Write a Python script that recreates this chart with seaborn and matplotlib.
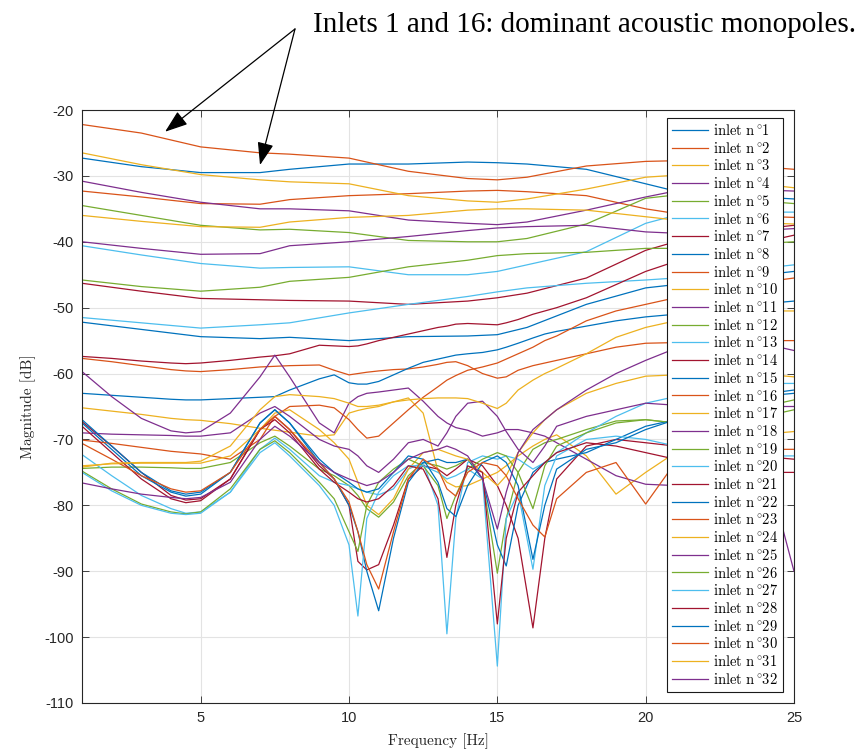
import matplotlib
matplotlib.use("Agg")
import matplotlib.pyplot as plt
from matplotlib.lines import Line2D
import pandas as pd
import seaborn as sns

# ---------------- data ----------------
freq_coarse = [1, 3, 5, 7, 8, 10, 12, 14, 15, 16, 18, 20, 21, 23, 25]
freq_fine = [1, 2, 3, 4, 4.5, 5, 6, 7, 7.5, 8, 9, 9.5, 10, 10.3, 10.6, 11, 11.5, 12, 12.5, 13,
             13.3, 13.6, 14, 14.5, 15, 15.3, 15.7, 16.2, 16.6, 17, 18, 19, 20, 21, 23, 24.5, 25]

# smooth (upper) inlets, on freq_coarse
inlet_16 = [-22.2, -23.5, -25.6, -26.5, -26.7, -27.3, -29.3, -30.4, -30.6, -30.2, -28.5, -27.8, -27.7, -28.3, -29.0]
inlet_3 = [-26.5, -28.3, -29.8, -30.6, -30.9, -31.2, -33.0, -33.8, -34.0, -33.5, -32.0, -30.2, -29.9, -30.8, -31.8]
inlet_1 = [-27.3, -28.6, -29.5, -29.5, -29.0, -28.2, -28.2, -27.9, -28.0, -28.2, -29.0, -31.2, -32.3, -33.0, -33.5]
inlet_4 = [-30.8, -32.5, -34.0, -35.0, -35.0, -35.3, -36.7, -37.2, -37.4, -37.0, -35.2, -33.2, -32.3, -32.0, -32.3]
inlet_2 = [-32.3, -33.2, -34.2, -34.3, -33.6, -33.0, -32.7, -32.3, -32.2, -32.4, -33.0, -35.0, -35.7, -36.0, -36.3]
inlet_5 = [-34.5, -36.0, -37.5, -38.2, -38.1, -38.6, -39.8, -40.0, -40.0, -39.5, -37.3, -33.4, -32.9, -33.5, -34.2]
inlet_10 = [-36.0, -36.9, -37.7, -37.8, -37.0, -36.3, -36.0, -35.2, -35.0, -35.0, -35.2, -36.2, -36.7, -37.0, -37.3]
inlet_11 = [-40.0, -41.0, -41.9, -41.8, -40.6, -40.0, -39.2, -38.3, -37.9, -37.7, -37.5, -38.5, -38.7, -38.5, -38.0]
inlet_6 = [-40.6, -42.0, -43.3, -44.0, -43.9, -43.8, -45.0, -45.0, -44.5, -43.5, -41.5, -37.2, -36.0, -35.5, -35.5]
inlet_12 = [-45.8, -46.8, -47.5, -46.9, -46.0, -45.4, -43.8, -42.8, -42.1, -41.8, -41.6, -41.0, -41.0, -40.5, -40.0]
inlet_7 = [-46.3, -47.5, -48.6, -48.8, -48.9, -49.0, -49.5, -49.0, -48.5, -47.8, -45.5, -41.3, -40.0, -38.5, -37.5]
inlet_13 = [-51.5, -52.3, -53.1, -52.6, -52.3, -50.8, -49.5, -48.3, -47.6, -47.0, -46.3, -45.8, -45.5, -44.5, -43.5]
inlet_8 = [-52.2, -53.3, -54.4, -54.7, -54.5, -55.0, -54.4, -54.3, -54.1, -53.0, -49.5, -47.0, -46.5, -45.5, -44.5]

# resonant (lower) inlets, on freq_fine
inlet_14 = [-57.4, -57.7, -58.1, -58.4, -58.5, -58.4, -58.0, -57.5, -57.3, -57.0, -55.7, -55.8, -55.9, -55.8, -55.5, -55.0, -54.5, -54.0, -53.5, -53.0,
            -52.8, -52.5, -52.4, -52.5, -52.6, -52.3, -51.8, -51.0, -50.5, -50.0, -48.5, -46.5, -44.5, -43.0, -41.0, -39.5, -39.0]
inlet_9 = [-57.7, -58.2, -58.8, -59.4, -59.6, -59.7, -59.4, -59.0, -58.9, -58.8, -58.7, -59.5, -60.2, -60.0, -59.8, -59.6, -59.4, -59.3, -59.0, -58.6,
           -58.3, -58.2, -58.8, -60.0, -60.7, -60.5, -59.5, -58.8, -58.4, -58.0, -57.0, -56.0, -55.4, -55.3, -55.2, -55.0, -55.0]
inlet_18 = [-59.7, -63.5, -66.8, -68.7, -69.0, -68.8, -66.0, -60.5, -57.2, -60.5, -67.5, -69.0, -64.5, -63.5, -63.0, -62.8, -62.5, -62.2, -64.2, -66.5,
            -67.5, -68.2, -68.6, -69.5, -69.0, -68.5, -68.5, -69.0, -69.5, -70.5, -73.0, -75.5, -76.8, -77.0, -79.0, -81.5, -90.0]
inlet_15 = [-63.0, -63.3, -63.6, -63.9, -64.0, -64.0, -63.8, -63.6, -63.5, -62.5, -60.8, -60.2, -61.4, -61.6, -61.6, -61.2, -60.2, -59.2, -58.3, -57.8,
            -57.5, -57.2, -57.0, -56.8, -56.4, -56.0, -55.4, -54.6, -54.0, -53.6, -52.8, -52.0, -51.4, -51.0, -50.0, -49.2, -49.0]
inlet_17 = [-65.2, -65.7, -66.2, -66.8, -67.0, -67.1, -67.6, -68.3, -68.6, -68.9, -69.5, -69.3, -66.0, -65.6, -65.3, -65.0, -64.3, -63.7, -66.0, -74.8,
            -76.5, -77.2, -77.0, -76.0, -75.0, -74.0, -72.5, -71.0, -70.0, -69.3, -72.5, -78.3, -75.0, -72.0, -70.0, -69.0, -68.8]
inlet_23 = [-70.1, -70.6, -71.2, -71.8, -72.0, -72.2, -73.0, -70.0, -66.5, -65.0, -64.8, -65.2, -67.0, -68.5, -69.8, -69.5, -67.5, -65.5, -63.6, -62.0,
            -61.0, -60.3, -59.5, -59.0, -58.4, -57.8, -57.0, -56.0, -55.0, -54.3, -52.0, -50.5, -49.5, -48.5, -46.5, -45.8, -45.5]
inlet_31 = [-74.2, -73.6, -73.5, -73.5, -73.5, -73.3, -71.0, -65.5, -63.5, -63.2, -63.5, -63.8, -64.5, -65.0, -65.0, -64.8, -64.3, -64.0, -63.8, -63.7,
            -63.7, -63.7, -63.8, -64.5, -65.3, -64.5, -62.5, -61.0, -60.0, -59.2, -57.0, -54.5, -53.0, -52.0, -51.0, -50.5, -50.5]
inlet_24 = [-74.0, -73.7, -73.6, -73.6, -73.6, -73.6, -72.5, -68.5, -66.0, -65.5, -68.5, -70.5, -73.0, -76.5, -80.0, -81.4, -79.0, -74.5, -72.0, -71.5,
            -72.0, -72.5, -73.0, -75.0, -77.0, -75.5, -72.0, -69.0, -67.0, -65.5, -63.0, -61.5, -60.4, -60.2, -60.0, -60.3, -60.5]
inlet_25 = [-69.0, -69.2, -69.3, -69.4, -69.5, -69.5, -69.0, -66.0, -65.0, -66.5, -70.0, -71.0, -71.5, -72.5, -74.0, -75.0, -73.0, -70.5, -70.0, -71.0,
            -69.0, -66.5, -64.5, -64.2, -66.5, -68.8, -71.5, -73.5, -71.0, -68.0, -66.5, -65.5, -64.5, -64.8, -65.0, -65.0, -65.0]
inlet_32 = [-76.6, -77.5, -78.3, -78.8, -79.0, -78.8, -76.5, -70.0, -68.0, -69.5, -73.5, -75.0, -76.0, -76.5, -77.0, -76.5, -75.0, -73.0, -72.0, -71.5,
            -71.0, -71.5, -72.5, -76.0, -83.6, -78.0, -72.0, -68.5, -67.0, -65.5, -62.5, -60.0, -58.0, -56.2, -55.5, -56.0, -56.5]
inlet_19 = [-74.4, -74.2, -74.2, -74.3, -74.4, -74.4, -73.5, -70.5, -69.5, -71.0, -74.5, -75.5, -77.0, -78.5, -80.5, -81.8, -79.5, -75.5, -73.5, -74.0,
            -74.5, -74.0, -73.0, -76.0, -90.3, -82.0, -75.0, -71.5, -70.5, -70.0, -68.5, -67.2, -67.0, -67.5, -66.0, -64.5, -64.0]
inlet_20 = [-72.3, -75.5, -78.5, -80.5, -81.2, -81.0, -78.0, -71.5, -69.8, -71.5, -75.5, -76.5, -77.0, -77.5, -78.0, -78.4, -77.5, -74.5, -73.5, -80.0,
            -99.5, -82.0, -73.5, -72.5, -73.0, -72.5, -73.0, -74.5, -73.5, -72.0, -69.0, -66.5, -64.5, -63.5, -62.0, -61.5, -61.5]
inlet_21 = [-67.3, -71.0, -75.0, -78.5, -79.2, -79.0, -76.0, -68.5, -66.5, -68.5, -74.0, -76.0, -80.0, -88.5, -89.8, -89.0, -83.0, -76.0, -74.0, -74.5,
            -75.5, -74.5, -73.0, -74.0, -77.0, -80.0, -85.0, -98.6, -85.0, -76.0, -71.0, -70.0, -70.5, -71.0, -72.0, -72.8, -73.0]
inlet_22 = [-67.5, -71.5, -75.5, -78.0, -78.6, -78.3, -75.0, -67.5, -65.5, -67.5, -73.5, -76.0, -80.0, -84.0, -90.0, -96.0, -85.0, -76.5, -73.5, -73.0,
            -73.5, -73.5, -73.0, -76.0, -86.0, -89.2, -80.0, -75.0, -73.5, -73.0, -72.0, -70.0, -68.0, -67.0, -64.0, -62.8, -62.5]
inlet_26 = [-74.8, -77.5, -79.8, -81.0, -81.3, -81.0, -77.5, -71.5, -70.2, -72.0, -76.5, -79.0, -84.0, -87.0, -80.0, -76.5, -74.5, -73.0, -74.0, -77.0,
            -82.0, -78.5, -74.5, -73.0, -72.0, -72.5, -75.0, -80.5, -74.0, -71.0, -69.0, -67.5, -67.0, -67.5, -67.0, -66.0, -65.5]
inlet_27 = [-75.0, -77.8, -80.0, -81.2, -81.4, -81.2, -78.0, -72.0, -70.5, -72.5, -77.0, -80.0, -86.0, -96.8, -82.0, -78.0, -75.5, -74.0, -74.0, -75.0,
            -76.0, -75.5, -74.5, -76.0, -104.4, -82.0, -78.0, -89.7, -77.0, -72.5, -70.0, -69.5, -70.0, -71.0, -72.0, -72.5, -72.5]
inlet_28 = [-68.0, -72.0, -76.0, -79.0, -79.6, -79.3, -76.0, -68.5, -67.0, -69.0, -74.5, -76.5, -78.0, -79.0, -79.5, -79.0, -77.0, -74.0, -74.5, -79.0,
            -87.9, -80.0, -74.0, -75.0, -98.0, -85.0, -78.0, -75.5, -73.5, -72.0, -70.5, -71.0, -72.0, -73.0, -74.0, -75.0, -75.0]
inlet_29 = [-67.0, -71.0, -75.0, -77.8, -78.3, -78.0, -75.0, -67.5, -65.5, -67.5, -73.0, -75.0, -76.5, -77.5, -78.0, -77.5, -75.0, -72.5, -73.0, -76.5,
            -80.5, -81.7, -77.0, -73.5, -72.5, -73.5, -77.0, -88.2, -80.0, -74.5, -71.5, -70.5, -68.5, -67.0, -65.0, -63.2, -63.0]
inlet_30 = [-70.6, -73.0, -75.5, -77.5, -78.0, -77.8, -75.0, -68.5, -66.5, -68.5, -73.5, -76.0, -79.5, -84.0, -89.0, -92.7, -84.0, -76.0, -73.0, -74.5,
            -77.5, -78.6, -75.0, -73.5, -74.0, -75.5, -79.0, -83.0, -84.8, -79.0, -75.0, -73.5, -79.8, -73.5, -72.0, -71.5, -71.5]

series = {1: inlet_1, 2: inlet_2, 3: inlet_3, 4: inlet_4, 5: inlet_5, 6: inlet_6, 7: inlet_7, 8: inlet_8,
          9: inlet_9, 10: inlet_10, 11: inlet_11, 12: inlet_12, 13: inlet_13, 14: inlet_14, 15: inlet_15, 16: inlet_16,
          17: inlet_17, 18: inlet_18, 19: inlet_19, 20: inlet_20, 21: inlet_21, 22: inlet_22, 23: inlet_23, 24: inlet_24,
          25: inlet_25, 26: inlet_26, 27: inlet_27, 28: inlet_28, 29: inlet_29, 30: inlet_30, 31: inlet_31, 32: inlet_32}

y_ticks = [-110, -100, -90, -80, -70, -60, -50, -40, -30, -20]
x_ticks = [5, 10, 15, 20, 25]

matlab_colors = ['#0072BD', '#D95319', '#EDB120', '#7E2F8E', '#77AC30', '#4DBEEE', '#A2142F']

# ---------------- build table ----------------
rows = []
for k in range(1, 33):
    vals = series[k]
    fx = freq_coarse if len(vals) == len(freq_coarse) else freq_fine
    for f, v in zip(fx, vals):
        rows.append({'freq': f, 'mag': v, 'inlet': f'inlet {k}'})
df = pd.DataFrame(rows)
hue_order = [f'inlet {k}' for k in range(1, 33)]
palette = {f'inlet {k}': matlab_colors[(k - 1) % 7] for k in range(1, 33)}

plt.rcParams['mathtext.fontset'] = 'cm'
plt.rcParams['axes.unicode_minus'] = False

fig = plt.figure(figsize=(8.6, 7.52), dpi=100)
ax = fig.add_axes([82 / 860, 49 / 752, 712 / 860, 593 / 752])

sns.lineplot(data=df, x='freq', y='mag', hue='inlet', hue_order=hue_order, palette=palette,
             estimator=None, sort=False, linewidth=0.9, legend=False, ax=ax)

ax.set_xlim(1, 25)
ax.set_ylim(-110, -20)
ax.set_xticks(x_ticks)
ax.set_yticks(y_ticks)
ax.grid(True, color='#e3e3e3', linewidth=0.8)
ax.set_axisbelow(True)
edge = '#262626'
for s in ax.spines.values():
    s.set_color(edge)
    s.set_linewidth(0.8)
ax.tick_params(direction='in', top=True, right=True, length=5, width=0.6, color=edge,
               labelcolor=edge, labelsize=10.5, pad=6)
for lab in ax.get_xticklabels() + ax.get_yticklabels():
    lab.set_fontfamily('Liberation Sans')

ax.set_xlabel('Frequency [Hz]', fontfamily='cmr10', fontsize=11, color=edge, labelpad=6)
ax.set_ylabel('Magnitude [dB]', fontfamily='cmr10', fontsize=11, color=edge, labelpad=6)

handles = [Line2D([0], [0], color=palette[h], lw=0.9) for h in hue_order]
texts = [rf'$\mathrm{{inlet\ n^\circ\!{k}}}$' for k in range(1, 33)]
leg = ax.legend(handles, texts, loc='upper right', bbox_to_anchor=(1 - 11 / 712, 1 - 8 / 593),
                borderaxespad=0, frameon=True, fancybox=False, framealpha=1, edgecolor='#1a1a1a',
                prop={'family': 'cmr10', 'size': 10.5}, handlelength=2.5, handletextpad=0.3,
                labelspacing=0.185, borderpad=0.35)
leg.get_frame().set_linewidth(0.8)

# annotation
fig.text(313 / 860, 1 - 32 / 752, 'Inlets 1 and 16: dominant acoustic monopoles.',
         fontfamily='Liberation Serif', fontsize=21, color='black', va='baseline', ha='left')
for tx, ty in [(3.8, -23.3), (7.0, -28.35)]:
    ax.annotate('', xy=(tx, ty), xytext=(8.18, -7.7), xycoords='data', textcoords='data',
                annotation_clip=False,
                arrowprops=dict(arrowstyle='-|>,head_length=0.7,head_width=0.25', color='black',
                                lw=0.9, shrinkA=0, shrinkB=0, mutation_scale=20))

fig.savefig('out.png', dpi=100)
